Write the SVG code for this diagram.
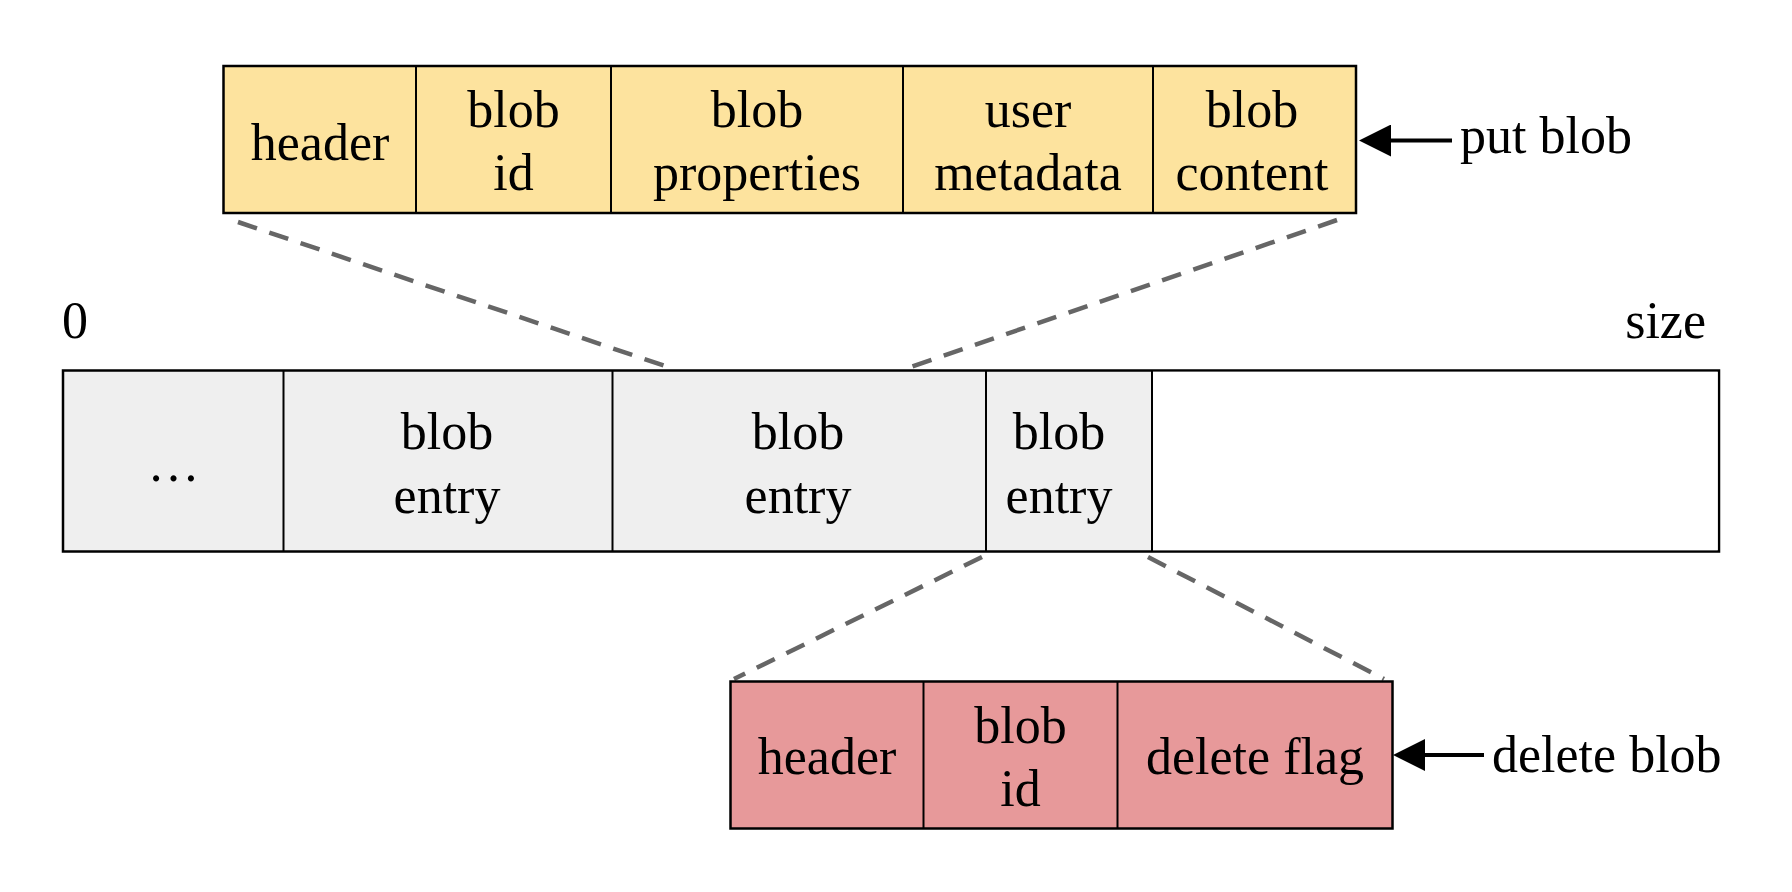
<svg xmlns="http://www.w3.org/2000/svg" width="1792" height="892" viewBox="0 0 1792 892">
<style>
  .t { font-family: "Liberation Serif", "Times New Roman", serif; font-size: 52px; fill: #000; }
  .c { text-anchor: middle; }
  .box { stroke: #000; stroke-width: 2.5; }
  .div { stroke: #000; stroke-width: 2; }
  .yellow { fill: #fde39e; }
  .pink { fill: #e7999a; }
  .gray { fill: #efefef; }
  .white { fill: #ffffff; }
  .dash { stroke: #666666; stroke-width: 4.5; stroke-dasharray: 20 13; fill: none; }
  .arrow { stroke: #000; stroke-width: 4; fill: none; }
</style>
<defs>
  <marker id="ah" viewBox="0 0 32 32" markerWidth="32" markerHeight="32" refX="16" refY="16" orient="auto" markerUnits="userSpaceOnUse">
    <path d="M0,0 L32,16 L0,32 z" fill="#000"/>
  </marker>
</defs>
<rect width="1792" height="892" fill="#ffffff"/>

<g id="connectors">
  <line class="dash" x1="238" y1="222" x2="674" y2="369"/>
  <line class="dash" x1="1337" y1="220" x2="905" y2="369"/>
  <line class="dash" x1="982" y1="557" x2="734" y2="679"/>
  <line class="dash" x1="1148" y1="557" x2="1384" y2="679"/>
  <line class="arrow" x1="1452" y1="140.5" x2="1375" y2="140.5" marker-end="url(#ah)"/>
  <line class="arrow" x1="1484" y1="755" x2="1409" y2="755" marker-end="url(#ah)"/>
</g>

<g id="put-entry">
  <rect class="yellow box" x="223.5" y="66" width="1132.5" height="147"/>
  <line class="div" x1="416" y1="66" x2="416" y2="213"/>
  <line class="div" x1="611" y1="66" x2="611" y2="213"/>
  <line class="div" x1="903" y1="66" x2="903" y2="213"/>
  <line class="div" x1="1153" y1="66" x2="1153" y2="213"/>
  <text class="t c" x="320" y="160">header</text>
  <text class="t c" x="513.5" y="127">blob</text>
  <text class="t c" x="513.5" y="190">id</text>
  <text class="t c" x="757" y="127">blob</text>
  <text class="t c" x="757" y="190">properties</text>
  <text class="t c" x="1028" y="127">user</text>
  <text class="t c" x="1028" y="190">metadata</text>
  <text class="t c" x="1252" y="127">blob</text>
  <text class="t c" x="1252" y="190">content</text>
</g>

<g id="put-label">
  <text class="t" x="1460" y="153">put blob</text>
</g>

<g id="labels">
  <text class="t" x="62" y="338">0</text>
  <text class="t" x="1706" y="338" text-anchor="end">size</text>
</g>

<g id="log">
  <rect class="gray box" x="63" y="370.5" width="1656" height="181"/>
  <rect class="white" x="1152" y="371.8" width="565.7" height="178.4"/>
  <line class="div" x1="283.5" y1="370.5" x2="283.5" y2="551.5"/>
  <line class="div" x1="612.5" y1="370.5" x2="612.5" y2="551.5"/>
  <line class="div" x1="986" y1="370.5" x2="986" y2="551.5"/>
  <line class="div" x1="1152" y1="370.5" x2="1152" y2="551.5"/>
  <text class="t c" x="173.5" y="481">…</text>
  <text class="t c" x="447" y="449">blob</text>
  <text class="t c" x="447" y="513">entry</text>
  <text class="t c" x="798" y="449">blob</text>
  <text class="t c" x="798" y="513">entry</text>
  <text class="t c" x="1059" y="449">blob</text>
  <text class="t c" x="1059" y="513">entry</text>
</g>

<g id="delete-entry">
  <rect class="pink box" x="730.5" y="681.5" width="662" height="147"/>
  <line class="div" x1="923.5" y1="681.5" x2="923.5" y2="828.5"/>
  <line class="div" x1="1117.5" y1="681.5" x2="1117.5" y2="828.5"/>
  <text class="t c" x="827" y="774">header</text>
  <text class="t c" x="1020.5" y="743">blob</text>
  <text class="t c" x="1020.5" y="806">id</text>
  <text class="t c" x="1255" y="774">delete flag</text>
</g>

<g id="delete-label">
  <text class="t" x="1492" y="772">delete blob</text>
</g>
</svg>
